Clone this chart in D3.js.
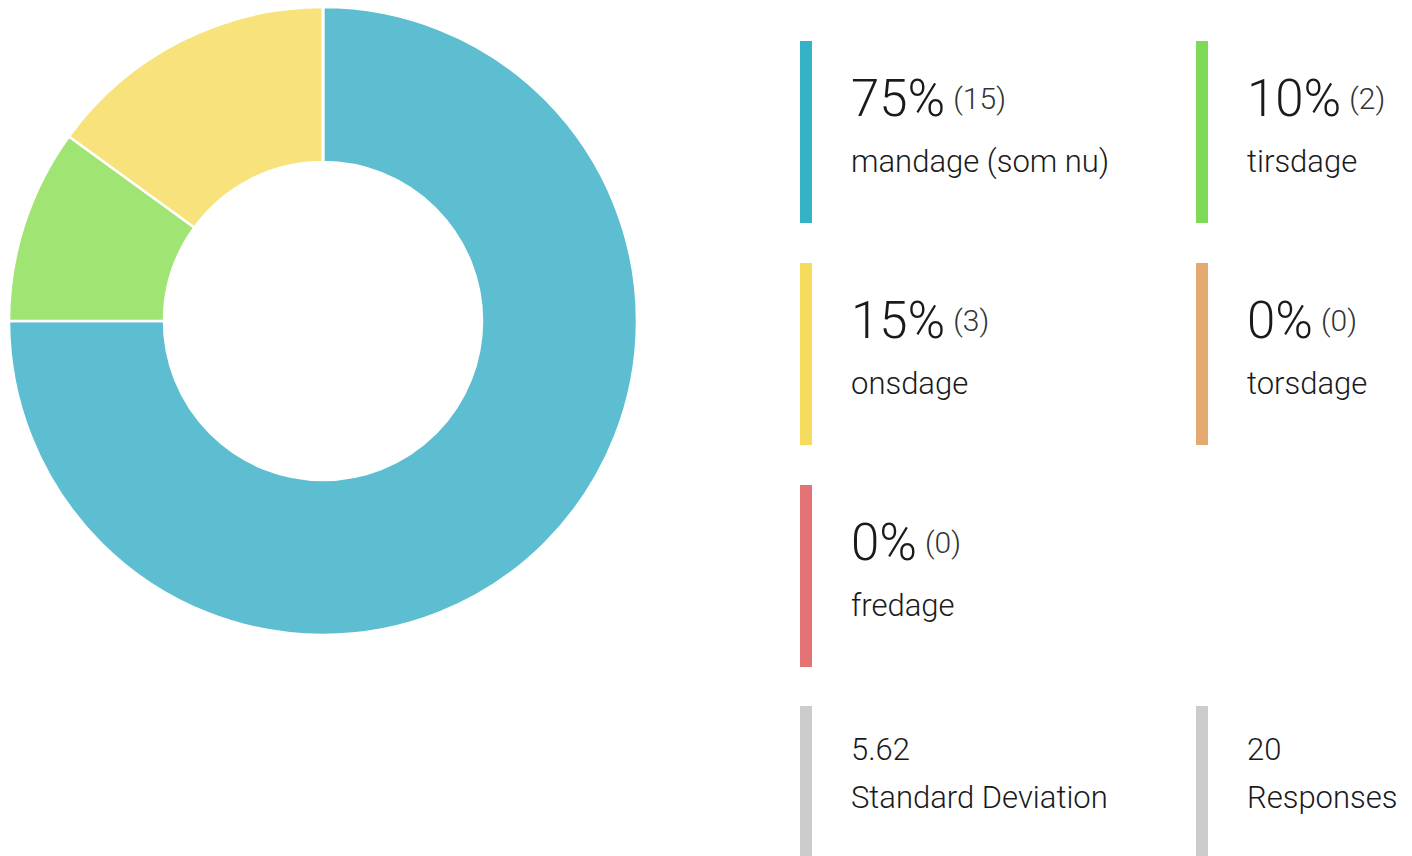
<!DOCTYPE html>
<html>
<head>
<meta charset="utf-8">
<script src="https://cdn.jsdelivr.net/npm/d3@7"></script>
<style>
  html, body { margin: 0; padding: 0; background: #fff; }
  svg { display: block; font-family: "Roboto Light", Roboto, "Noto Sans", sans-serif; }
</style>
</head>
<body>
<svg id="chart" width="1412" height="856"></svg>
<script>
// answers to the question
const labels = ["mandage (som nu)", "tirsdage", "onsdage", "torsdage", "fredage"];
const counts = [15, 2, 3, 0, 0];
const barColors = ["#35b2c8", "#7ed957", "#f6dc5c", "#e4a96e", "#e57373"];
const sliceColors = ["#5cbed0", "#a0e474", "#f7e27b", "#ebc091", "#ec9a9a"];

// summary boxes
const statValues = ["5.62", "20"];
const statLabels = ["Standard Deviation", "Responses"];

const total = d3.sum(counts);
const svg = d3.select("#chart");

// donut
const cx = 323, cy = 321, outerR = 314, innerR = 159;
const pie = d3.pie().sort(null).value(d => d);
const arc = d3.arc().innerRadius(innerR).outerRadius(outerR);

svg.append("g")
    .attr("transform", "translate(" + cx + "," + cy + ")")
  .selectAll("path")
  .data(pie(counts))
  .enter()
  .append("path")
    .attr("d", arc)
    .style("fill", (d, i) => sliceColors[i])
    .style("stroke", "#fff")
    .style("stroke-width", 2.5);

// legend grid: 2 columns
const colX = d3.scalePoint().domain([0, 1]).range([800, 1196]);
const rowY = d3.scaleLinear().domain([0, 1]).range([41, 263]);
const barH = 182;

const items = svg.selectAll(".item")
  .data(labels)
  .enter()
  .append("g")
    .attr("class", "item")
    .attr("transform", (d, i) => "translate(" + colX(i % 2) + "," + rowY(Math.floor(i / 2)) + ")");

items.append("rect")
    .attr("width", 12)
    .attr("height", barH)
    .style("fill", (d, i) => barColors[i]);

const big = items.append("text")
    .attr("x", 51)
    .attr("y", 75)
    .style("fill", "#1a1a1a");
big.append("tspan")
    .style("font-size", "51px")
    .style("font-weight", 300)
    .text((d, i) => Math.round(counts[i] / total * 100) + "%");
big.append("tspan")
    .attr("dx", 8)
    .attr("dy", -7)
    .style("font-size", "30px")
    .style("font-weight", 300)
    .style("fill", "#333")
    .text((d, i) => "(" + counts[i] + ")");

items.append("text")
    .attr("x", 51)
    .attr("y", 131)
    .style("font-size", "31px")
    .style("font-weight", 300)
    .style("fill", "#1a1a1a")
    .text(d => d);

// stats row
const stats = svg.selectAll(".stat")
  .data(statLabels)
  .enter()
  .append("g")
    .attr("class", "stat")
    .attr("transform", (d, i) => "translate(" + colX(i) + "," + 706 + ")");

stats.append("rect")
    .attr("width", 12)
    .attr("height", 160)
    .style("fill", "#cccccc");

stats.append("text")
    .attr("x", 51)
    .attr("y", 54)
    .style("font-size", "31px")
    .style("font-weight", 300)
    .style("fill", "#1a1a1a")
    .text((d, i) => statValues[i]);

stats.append("text")
    .attr("x", 51)
    .attr("y", 102)
    .style("font-size", "31px")
    .style("font-weight", 300)
    .style("fill", "#1a1a1a")
    .text(d => d);
</script>
</body>
</html>
